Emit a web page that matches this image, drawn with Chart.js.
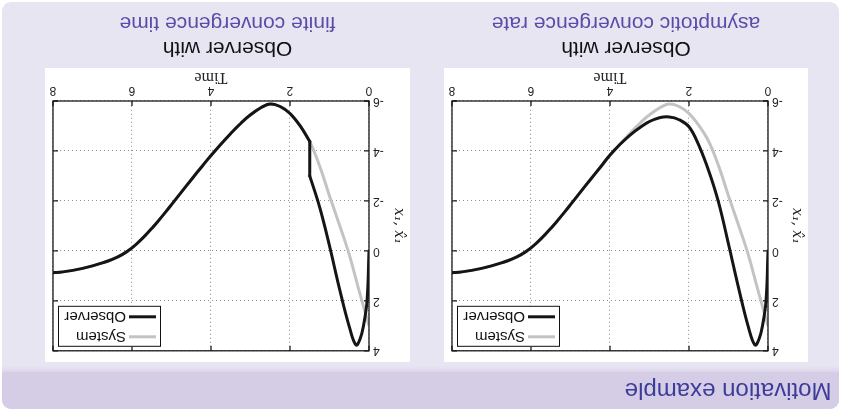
<!DOCTYPE html>
<html>
<head>
<meta charset="utf-8">
<title>Motivation example</title>
<script src="https://cdn.jsdelivr.net/npm/chart.js@4/dist/chart.umd.min.js"></script>
<style>
  html, body { margin: 0; padding: 0; background: #ffffff; }
  #page {
    position: relative; width: 841px; height: 416px; overflow: hidden;
    transform: rotate(180deg); transform-origin: 50% 50%;
    font-family: "Liberation Sans", Arial, sans-serif;
  }
  #block {
    position: absolute; left: 2px; top: 7px; width: 837px; height: 407px;
    background: #e8e5f2; border-radius: 9px; overflow: hidden;
  }
  #head {
    position: absolute; left: 0; top: 0; width: 837px; height: 37px;
    background: #d5cde6;
  }
  #shade {
    position: absolute; left: 0; top: 37px; width: 837px; height: 6px;
    background: linear-gradient(#dbd5ea, #e8e5f2);
  }
  #head span {
    position: absolute; left: 7.5px; top: 6px; font-size: 24px; line-height: 24px;
    color: #3c3c99; white-space: nowrap;
  }
  .panel { position: absolute; top: 54px; height: 294px; background: #ffffff; }
  .panel canvas { position: absolute; left: 0; top: 0; }
  .cap {
    position: absolute; font-size: 21px; line-height: 21px; text-align: center;
    white-space: nowrap;
  }
  .cap.l1 { top: 356px; color: #111111; }
  .cap.l2 { top: 381px; color: #5a4ca8; }
</style>
</head>
<body>
<div id="page">
  <div id="block">
    <div id="head"><span>Motivation example</span></div>
    <div id="shade"></div>
  </div>

  <div class="panel" style="left:33px;width:364px;"><canvas id="chartAsym" width="364" height="294"></canvas></div>
  <div class="panel" style="left:431px;width:365px;"><canvas id="chartFinite" width="365" height="294"></canvas></div>

  <div class="cap l1" style="left:33px;width:364px;">Observer with</div>
  <div class="cap l2" style="left:33px;width:364px;">asymptotic convergence rate</div>
  <div class="cap l1" style="left:431px;width:365px;">Observer with</div>
  <div class="cap l2" style="left:431px;width:365px;">finite convergence time</div>
</div>

<script>
// Axis ticks
const timeTicks = [0, 2, 4, 6, 8];
const stateTicks = [-6, -4, -2, 0, 2, 4];

// System state x1(t)
const timeSystem = [0, 0.25, 0.5, 0.75, 1.0, 1.25, 1.5, 1.75, 2.0, 2.25, 2.5, 2.75, 3.0, 3.25, 3.5, 3.75,
                    4.0, 4.25, 4.5, 4.75, 5.0, 5.25, 5.5, 5.75, 6.0, 6.25, 6.5, 6.75, 7.0, 7.25, 7.5, 7.75, 8.0];
const systemState = [3.0, 1.6, 0.15, -1.05, -2.2, -3.4, -4.38, -5.02, -5.5, -5.78, -5.88, -5.72, -5.45, -5.1, -4.7, -4.27,
                     -3.82, -3.34, -2.85, -2.35, -1.85, -1.36, -0.9, -0.48, -0.12, 0.15, 0.34, 0.48, 0.6, 0.7, 0.78, 0.84, 0.88];

// Estimate from the observer with asymptotic convergence rate
const timeObserverAsym = [0, 0.05, 0.14, 0.22, 0.33, 0.5, 0.75, 1.0, 1.25, 1.5, 1.75, 2.0, 2.25, 2.5, 2.75,
                          3.0, 3.25, 3.5, 3.75, 4.0, 4.25, 4.5, 4.75, 5.0, 5.25, 5.5, 5.75, 6.0, 6.25, 6.5,
                          6.75, 7.0, 7.25, 7.5, 7.75, 8.0];
const observerAsym = [0, 2.0, 3.0, 3.5, 3.77, 3.03, 1.45, -0.27, -1.93, -3.2, -4.22, -4.97, -5.25, -5.36, -5.33,
                      -5.18, -4.93, -4.62, -4.26, -3.84, -3.34, -2.85, -2.35, -1.85, -1.36, -0.9, -0.48, -0.12, 0.15, 0.34,
                      0.48, 0.6, 0.7, 0.78, 0.84, 0.88];

// Observer with finite convergence time: before the jump ...
const timeObserverFiniteBefore = [0, 0.05, 0.14, 0.22, 0.33, 0.5, 0.75, 1.0, 1.25, 1.5];
const observerFiniteBefore = [0, 2.0, 3.0, 3.5, 3.77, 3.03, 1.5, -0.2, -1.75, -3.0];
// ... the jump at t = 1.5 ...
const timeObserverFiniteJump = [1.5, 1.5];
const observerFiniteJump = [-3.0, -4.38];
// ... and after it, where the estimate coincides with the state
const timeObserverFiniteAfter = [1.5, 1.75, 2.0, 2.25, 2.5, 2.75, 3.0, 3.25, 3.5, 3.75, 4.0, 4.25, 4.5,
                                 4.75, 5.0, 5.25, 5.5, 5.75, 6.0, 6.25, 6.5, 6.75, 7.0, 7.25, 7.5, 7.75, 8.0];
const observerFiniteAfter = [-4.38, -5.02, -5.5, -5.78, -5.88, -5.72, -5.45, -5.1, -4.7, -4.27, -3.82, -3.34, -2.85,
                             -2.35, -1.85, -1.36, -0.9, -0.48, -0.12, 0.15, 0.34, 0.48, 0.6, 0.7, 0.78, 0.84, 0.88];

const seriesLabels = ['System', 'Observer'];
const systemColor = '#c3c3c3';
const observerColor = '#151515';

const toPoints = (ts, vs) => ts.map((t, i) => ({ x: t, y: vs[i] }));

// Box, inward tick marks and the legend inside the plot area
const framePlugin = {
  id: 'frameAndLegend',
  afterDraw(chart) {
    const { ctx, chartArea: a, scales: { x, y } } = chart;
    ctx.save();
    ctx.strokeStyle = '#1a1a1a';
    ctx.lineWidth = 1.3;
    ctx.beginPath();
    x.ticks.forEach(t => {
      const px = x.getPixelForValue(t.value);
      ctx.moveTo(px, a.bottom); ctx.lineTo(px, a.bottom - 5);
      ctx.moveTo(px, a.top); ctx.lineTo(px, a.top + 5);
    });
    y.ticks.forEach(t => {
      const py = y.getPixelForValue(t.value);
      ctx.moveTo(a.left, py); ctx.lineTo(a.left + 5, py);
      ctx.moveTo(a.right, py); ctx.lineTo(a.right - 5, py);
    });
    ctx.stroke();
    ctx.strokeRect(a.left, a.top, a.right - a.left, a.bottom - a.top);

    // legend
    const bw = 102, bh = 40;
    const bx = a.right - 6 - bw, by = a.top + 4;
    ctx.fillStyle = '#ffffff';
    ctx.fillRect(bx, by, bw, bh);
    ctx.lineWidth = 1;
    ctx.strokeStyle = '#111111';
    ctx.strokeRect(bx + 0.5, by + 0.5, bw, bh);
    chart.data.datasets.filter(ds => ds.inLegend !== false).forEach((ds, i) => {
      const cy = by + 10 + i * 20;
      ctx.beginPath();
      ctx.strokeStyle = ds.borderColor;
      ctx.lineWidth = ds.borderWidth;
      ctx.moveTo(bx + 5, cy); ctx.lineTo(bx + 32, cy);
      ctx.stroke();
      ctx.fillStyle = '#111111';
      ctx.font = '15px "Liberation Sans", Arial, sans-serif';
      ctx.textBaseline = 'middle';
      ctx.textAlign = 'left';
      ctx.fillText(ds.label, bx + 35, cy + 1);
    });
    ctx.restore();
  }
};

function lineSet(label, points, color, order, inLegend = true, tension = 0.4) {
  return { label, data: points, borderColor: color, borderWidth: 3, pointRadius: 0,
           tension, order, inLegend, borderCapStyle: 'round', borderJoinStyle: 'round' };
}

function makeChart(canvasId, observerSets, yAxisWidth) {
  return new Chart(document.getElementById(canvasId), {
    type: 'line',
    data: {
      datasets: [lineSet(seriesLabels[0], toPoints(timeSystem, systemState), systemColor, 1)].concat(observerSets)
    },
    options: {
      responsive: false,
      animation: false,
      devicePixelRatio: 1,
      layout: { padding: { left: 0, right: 8, top: 11, bottom: 0 } },
      plugins: { legend: { display: false }, tooltip: { enabled: false } },
      scales: {
        x: {
          type: 'linear', min: 0, max: 8,
          afterBuildTicks: s => { s.ticks = timeTicks.map(v => ({ value: v })); },
          afterFit: s => { s.height = 33; },
          ticks: {
            padding: 3, maxRotation: 0, autoSkip: false,
            color: '#222222', font: { family: '"Liberation Sans", Arial, sans-serif', size: 12 }
          },
          grid: { color: '#8f8f8f', lineWidth: 1, drawTicks: false },
          border: { display: false, dash: [1, 3] },
          title: {
            display: true, text: 'Time', color: '#222222',
            font: { family: '"Liberation Serif", serif', size: 16, lineHeight: 1.2 },
            padding: { top: 0, bottom: 0 }
          }
        },
        y: {
          type: 'linear', min: -6, max: 4,
          afterBuildTicks: s => { s.ticks = stateTicks.map(v => ({ value: v })); },
          afterFit: s => { s.width = yAxisWidth; },
          ticks: {
            padding: 4, autoSkip: false,
            color: '#222222', font: { family: '"Liberation Sans", Arial, sans-serif', size: 12 }
          },
          grid: { color: '#8f8f8f', lineWidth: 1, drawTicks: false },
          border: { display: false, dash: [1, 3] },
          title: {
            display: true, text: 'x\u2081, x\u0302\u2081', color: '#222222',
            font: { family: '"DejaVu Serif", serif', style: 'italic', size: 14, lineHeight: 1.2 },
            padding: { top: 3, bottom: 0 }
          }
        }
      }
    },
    plugins: [framePlugin]
  });
}

makeChart('chartAsym', [
  lineSet(seriesLabels[1], toPoints(timeObserverAsym, observerAsym), observerColor, 0)
], 40);

makeChart('chartFinite', [
  lineSet(seriesLabels[1], toPoints(timeObserverFiniteBefore, observerFiniteBefore), observerColor, 0),
  lineSet(seriesLabels[1], toPoints(timeObserverFiniteJump, observerFiniteJump), observerColor, 0, false, 0),
  lineSet(seriesLabels[1], toPoints(timeObserverFiniteAfter, observerFiniteAfter), observerColor, 0, false)
], 41);
</script>
</body>
</html>
